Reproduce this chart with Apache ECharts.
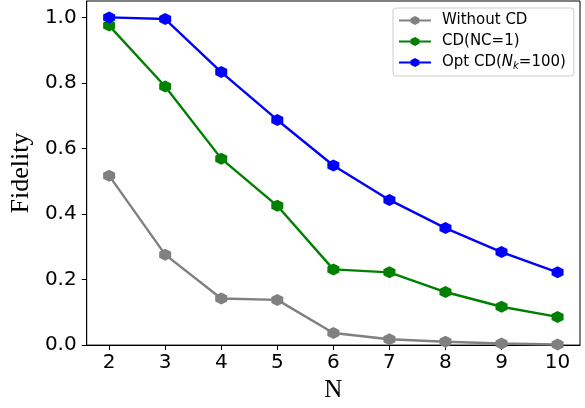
<!DOCTYPE html>
<html>
<head>
<meta charset="utf-8">
<script src="https://cdn.jsdelivr.net/npm/echarts@6/dist/echarts.min.js"></script>
<style>html,body{margin:0;padding:0;background:#fff;}#c{width:585px;height:408px;}</style>
</head>
<body>
<div id="c"></div>
<script>
const N = [2, 3, 4, 5, 6, 7, 8, 9, 10];
const withoutCD = [0.517, 0.276, 0.142, 0.138, 0.037, 0.018, 0.010, 0.005, 0.002];
const cdNC1 = [0.975, 0.789, 0.569, 0.425, 0.231, 0.222, 0.162, 0.117, 0.086];
const optCD = [1.0, 0.995, 0.833, 0.687, 0.548, 0.443, 0.357, 0.284, 0.222];
const xTicks = [2, 3, 4, 5, 6, 7, 8, 9, 10];
const yTicks = [0.0, 0.2, 0.4, 0.6, 0.8, 1.0];
const seriesNames = ['Without CD', 'CD(NC=1)', 'Opt CD(N_k=100)'];

const hex = 'path://M0,-1 L0.866,-0.5 L0.866,0.5 L0,1 L-0.866,0.5 L-0.866,-0.5 Z';
const colors = ['#808080', '#008000', '#0000ff'];
const dataSets = [withoutCD, cdNC1, optCD];

const chart = echarts.init(document.getElementById('c'), null, {renderer: 'canvas'});
const series = dataSets.map((d, i) => ({
  name: seriesNames[i],
  type: 'line',
  data: N.map((n, j) => [n, d[j]]),
  symbol: hex,
  symbolSize: 12,
  showSymbol: true,
  lineStyle: {color: colors[i], width: 2.4},
  itemStyle: {color: colors[i]},
  emphasis: {disabled: true},
  animation: false,
  z: 2 + i
}));

chart.setOption({
  animation: false,
  grid: {left: 84, right: 5, top: 1, bottom: 58, show: true, borderColor: '#000', borderWidth: 1, containLabel: false},
  xAxis: {
    type: 'value', min: 1.6, max: 10.4,
    name: 'N', nameLocation: 'middle', nameGap: 31,
    nameTextStyle: {fontFamily: 'Liberation Serif', fontSize: 25, color: '#000'},
    axisLine: {show: true, lineStyle: {color: '#000', width: 1}},
    axisTick: {show: true, length: 5, inside: false, customValues: xTicks, lineStyle: {color: '#000'}},
    axisLabel: {customValues: xTicks, fontFamily: 'DejaVu Sans', fontSize: 20, color: '#000', margin: 8},
    splitLine: {show: false}
  },
  yAxis: {
    type: 'value', min: 0, max: 1.05,
    name: 'Fidelity', nameLocation: 'middle', nameGap: 46,
    nameTextStyle: {fontFamily: 'Liberation Serif', fontSize: 26, color: '#000'},
    axisLine: {show: true, lineStyle: {color: '#000', width: 1}},
    axisTick: {show: true, length: 5, inside: false, customValues: yTicks, lineStyle: {color: '#000'}},
    axisLabel: {customValues: yTicks, formatter: v => v.toFixed(1), fontFamily: 'DejaVu Sans', fontSize: 20, color: '#000', margin: 10},
    splitLine: {show: false}
  },
  legend: {
    orient: 'vertical', left: 393, top: 8,
    padding: [5, 8, 5, 5],
    backgroundColor: '#fff', borderColor: '#cccccc', borderWidth: 1, borderRadius: 3,
    itemWidth: 32, itemHeight: 11, itemGap: 6,
    data: seriesNames,
    formatter: function (name) {
      if (name.indexOf('_k') >= 0) {
        return '{a|Opt CD(}{i|N}{s|k}{a|=100)}';
      }
      return '{a|' + name + '}';
    },
    textStyle: {
      fontFamily: 'DejaVu Sans', fontSize: 15, color: '#000', padding: [0, 0, 0, 6],
      rich: {
        a: {fontFamily: 'DejaVu Sans', fontSize: 15, color: '#000', lineHeight: 17},
        i: {fontFamily: 'DejaVu Sans', fontStyle: 'italic', fontSize: 15, color: '#000', lineHeight: 17},
        s: {fontFamily: 'DejaVu Sans', fontStyle: 'italic', fontSize: 10, color: '#000', lineHeight: 17, verticalAlign: 'bottom', padding: [5, 0, 0, 0]}
      }
    }
  },
  series: series
});
</script>
</body>
</html>
